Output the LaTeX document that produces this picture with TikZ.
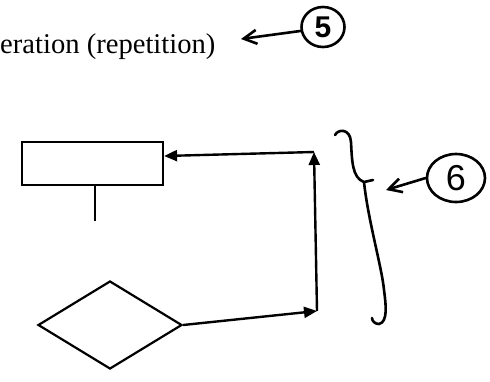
\documentclass[tikz,border=0pt]{standalone}
\usepackage{fontspec}
\setmainfont{Liberation Serif}
\newfontfamily\handfont{Liberation Sans}
\usetikzlibrary{arrows.meta,shapes.geometric}
\tikzset{
  outline/.style={draw=black, line width=2.2pt, inner sep=0pt},
  flowarrow/.style={draw=black, line width=2.4pt, -{Triangle[length=13pt,width=11pt]}},
  handarrow/.style={draw=black, line width=2.6pt, line cap=round, -{Straight Barb[length=13pt,width=14pt,line width=2.6pt]}},
  ringed/.style={draw=black, ellipse, line width=2.6pt, inner sep=0pt},
}
\begin{document}
\begin{tikzpicture}[x=1pt,y=-1pt]
\useasboundingbox (0,0) rectangle (490,381);
% heading
\node[anchor=base west, inner sep=0pt, font=\fontsize{28.6}{30}\selectfont] (title) at (0,53) {eration (repetition)};
% annotation 5
\node[ringed, minimum width=43pt, minimum height=40pt, font=\handfont\bfseries\fontsize{30}{30}\selectfont] (five) at (323,27) {5};
\coordinate (tipfive) at (241,39);
\draw[handarrow] (five.190) -- (tipfive);
% flowchart
\node[outline, rectangle, minimum width=141pt, minimum height=43pt] (box) at (92.5,163.5) {};
\draw[line width=2.4pt] ([xshift=2.5pt]box.south) -- ++(0,35);
\node[outline, diamond, minimum width=144pt, minimum height=88pt] (dia) at (110,325) {};
\coordinate (cbr) at (317,311);
\coordinate (ctr) at (314,152);
\draw[flowarrow] (dia.east) -- (cbr);
\draw[flowarrow] (cbr) -- (ctr);
\draw[flowarrow] (ctr) -- ([yshift=7.5pt]box.east);
% brace
\draw[line width=2.6pt, line cap=round, line join=round]
  (335,135) .. controls (338,129) and (350,128) .. (351,142)
  .. controls (352,160) and (352,178) .. (364,182) -- (373,180);
\draw[line width=2.6pt, line cap=round]
  (364,182) .. controls (368,220) and (382,268) .. (384,290)
  .. controls (386,305) and (388,322) .. (379,324)
  .. controls (375,324) and (372,321) .. (372,318);
% annotation 6
\node[ringed, minimum width=58pt, minimum height=48pt, font=\handfont\fontsize{36}{36}\selectfont] (six) at (456,178) {6};
\coordinate (tipsix) at (386,190);
\draw[handarrow] (six.west) -- (tipsix);
\end{tikzpicture}
\end{document}
